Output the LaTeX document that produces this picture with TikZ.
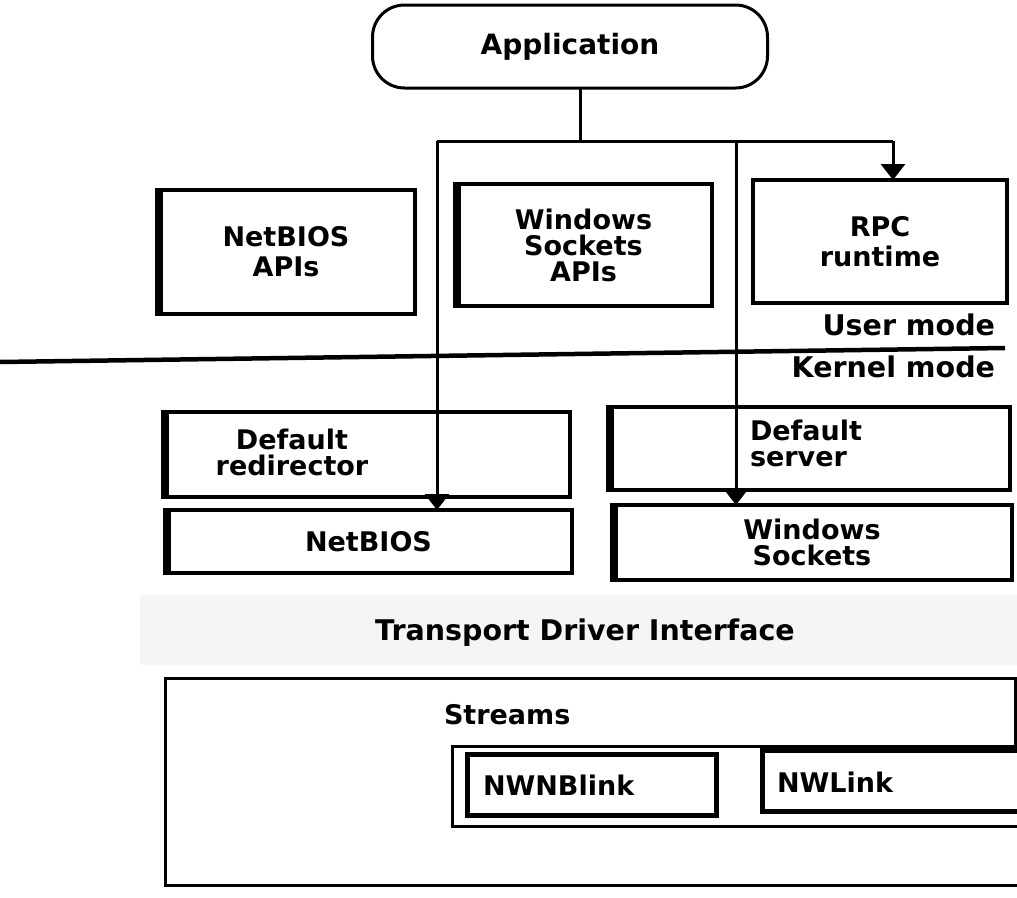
\documentclass[tikz,border=0pt]{standalone}
\usepackage{fontspec}
\setmainfont{DejaVu Sans}
\usepackage{tikz}
\usetikzlibrary{arrows.meta}
\tikzset{%
  plainbox/.style = {shape=rectangle, draw, line width=3.5pt,%
                     inner sep=0pt, align=center},%
  layerbox/.style = {plainbox,%
                     append after command={\pgfextra{\draw[line width=7pt]%
                       ([xshift=2pt]\tikzlastnode.north west) --%
                       ([xshift=2pt]\tikzlastnode.south west);}}},%
  linkbox/.style  = {plainbox, line width=5pt},%
  appnode/.style  = {draw, rounded corners=32pt, line width=3pt,%
                     minimum width=395pt, minimum height=83pt,%
                     font=\fontsize{28}{28}\selectfont\bfseries},%
  lbl/.style      = {align=left},%
  widelbl/.style  = {font=\fontsize{27}{30}\selectfont\bfseries},%
  modelbl/.style  = {font=\fontsize{28.5}{28}\selectfont\bfseries}%
}
\begin{document}
\begin{tikzpicture}[x=1pt,y=-1pt,
	every node/.style = {font=\fontsize{27}{26}\selectfont\bfseries,inner sep=0pt,outer sep=0pt},
	wire/.style={line width=3pt},
	tip/.style={wire,-{Triangle[width=24pt,length=16pt]}}]
	\useasboundingbox (0,0) rectangle (1017,897);
	\fill[black!4] (140,595) rectangle (1017,665);
	\node[appnode] (app) at (570,46.5) {Application};
	\node[layerbox, widelbl, minimum width=258pt, minimum height=124pt] (nbapi) at (286,252) {NetBIOS\\APIs};
	\node[layerbox, minimum width=257pt, minimum height=122pt] (wsapi) at (583.5,245) {Windows\\Sockets\\APIs};
	\node[plainbox, widelbl, minimum width=254pt, minimum height=123pt] (rpc) at (880,241.5) {RPC\\runtime};
	\node[modelbl, anchor=east] (umode) at (995,325) {User mode};
	\node[modelbl, anchor=east] (kmode) at (995,367) {Kernel mode};
	\draw[line width=4.5pt] (0,362) -- (1005,348);
	\node[layerbox, minimum width=407pt, minimum height=85pt] (redir) at (366.5,454.5) {};
	\node[align=center] (redirlbl) at (292,452) {Default\\redirector};
	\node[layerbox, minimum width=407pt, minimum height=63pt] (netbios) at (368.5,541.5) {NetBIOS};
	\node[layerbox, minimum width=402pt, minimum height=83pt] (server) at (809,448.5) {};
	\node[lbl, anchor=west] (serverlbl) at (750,443) {Default\\server};
	\node[layerbox, minimum width=400pt, minimum height=75pt] (wsock) at (812,542.5) {Windows\\Sockets};
	\node[modelbl] (tdi) at (585,633) {Transport Driver Interface};
	\draw[wire] (1015,745) -- (1015,678) -- (165,678) -- (165,885) -- (1017,885);
	\node[lbl, anchor=west] (streams) at (444,715) {Streams};
	\draw[wire] (1017,746) -- (452,746) -- (452,826) -- (1017,826);
	\node[linkbox, minimum width=249pt, minimum height=61pt] (nwnb) at (591.5,784.5) {};
	\node[lbl, anchor=west] (nwnblbl) at (483,785) {NWNBlink};
	\draw[line width=5pt] (1017,750) -- (762,750) -- (762,811) -- (1017,811);
	\node[lbl, anchor=west] (nwlinklbl) at (777,782) {NWLink};
	\coordinate (hubL) at (437,141);
	\coordinate (hubM) at (580,141);
	\coordinate (hubC) at (736,141);
	\coordinate (hubR) at (893,141);
	\draw[wire] (app.south -| hubM) -- (hubM);
	\draw[wire] (hubL) -- (hubR);
	\draw[tip] (hubR) -- (rpc.north -| hubR);
	\draw[tip] (hubL) -- (netbios.north -| hubL);
	\draw[tip] (hubC) -- (wsock.north -| hubC);
\end{tikzpicture}
\end{document}
